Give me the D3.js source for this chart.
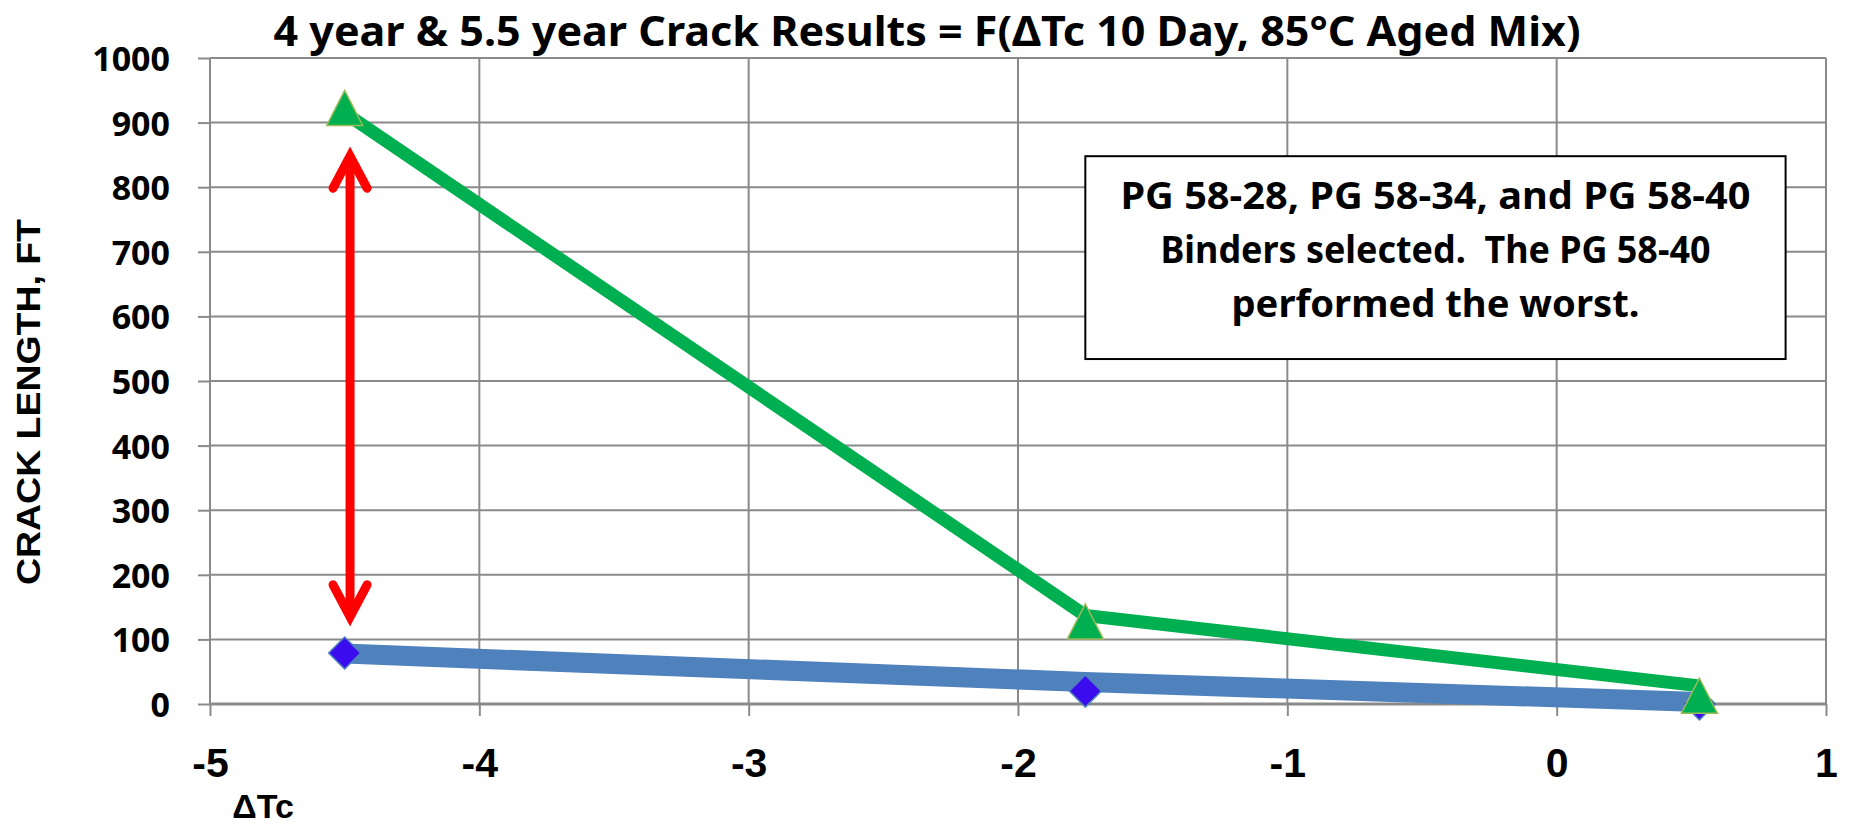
<!DOCTYPE html>
<html>
<head>
<meta charset="utf-8">
<script src="https://cdnjs.cloudflare.com/ajax/libs/d3/7.8.5/d3.min.js"></script>
<style>
  html, body { margin: 0; padding: 0; background: #fff; }
  svg { display: block; }
</style>
</head>
<body>
<div id="chart"></div>
<script>
// values
const dTc = [-4.5, -1.75, 0.53];
const greenLine = [915, 137, 28];      // 5.5 year line
const greenMarks = [922, 127, 12];     // triangle markers
const blueLine = [78, 34, 3];          // 4 year line
const blueMarks = [79, 20, 0];         // diamond markers
const xTicks = [-5, -4, -3, -2, -1, 0, 1];
const yTicks = [0, 100, 200, 300, 400, 500, 600, 700, 800, 900, 1000];

// red range arrow, in data units
const arrowX = -4.48;
const arrowSpan = [135, 848];

// note box, in data units
const noteBox = { x0: -1.75, x1: 0.85, y0: 848, y1: 534 };
const noteLines = [
    'PG 58-28, PG 58-34, and PG 58-40',
    'Binders selected.  The PG 58-40',
    'performed the worst.'
];

const W = 1853, H = 827;
const margin = { top: 58, right: 27, bottom: 123, left: 210 };

const svg = d3.select('#chart')
    .append('svg')
    .attr('width', W)
    .attr('height', H);

const x = d3.scaleLinear()
    .domain([-5, 1])
    .range([margin.left, W - margin.right]);

const y = d3.scaleLinear()
    .domain([0, 1000])
    .range([H - margin.bottom, margin.top]);

const gridColor = '#8a8a8a';

// gridlines
svg.append('g')
    .selectAll('line')
    .data(yTicks)
    .enter()
    .append('line')
    .attr('x1', x(-5))
    .attr('x2', x(1))
    .attr('y1', d => y(d))
    .attr('y2', d => y(d))
    .attr('stroke', gridColor)
    .attr('stroke-width', d => d === 0 ? 3 : 2);

svg.append('g')
    .selectAll('line')
    .data(xTicks)
    .enter()
    .append('line')
    .attr('x1', d => x(d))
    .attr('x2', d => x(d))
    .attr('y1', y(1000))
    .attr('y2', y(0))
    .attr('stroke', gridColor)
    .attr('stroke-width', 2);

// axes
const xAxis = svg.append('g')
    .attr('transform', `translate(0,${y(0)})`)
    .call(d3.axisBottom(x).tickValues(xTicks).tickSize(12).tickPadding(32));
xAxis.select('.domain').remove();
xAxis.selectAll('line').attr('stroke', gridColor).attr('stroke-width', 2);
xAxis.selectAll('text')
    .attr('fill', '#000')
    .style('font-family', '"Liberation Sans", Arial, sans-serif')
    .style('font-weight', 'bold')
    .style('font-size', '41px')
    .text(d => d < 0 ? '-' + Math.abs(d) : d);

const yAxis = svg.append('g')
    .attr('transform', `translate(${x(-5)},0)`)
    .call(d3.axisLeft(y).tickValues(yTicks).tickSize(12).tickPadding(28).tickFormat(d3.format('d')));
yAxis.select('.domain').remove();
yAxis.selectAll('line').attr('stroke', gridColor).attr('stroke-width', 2);
yAxis.selectAll('text')
    .attr('fill', '#000')
    .attr('dy', '0.37em')
    .style('font-family', '"Noto Sans", sans-serif')
    .style('font-weight', 'bold')
    .style('font-size', '34px');

// lines
const line = d3.line()
    .x((d, i) => x(dTc[i]))
    .y(d => y(d));

svg.append('path')
    .datum(blueLine)
    .attr('d', line)
    .attr('fill', 'none')
    .attr('stroke', '#4f81bd')
    .attr('stroke-width', 20)
    .attr('stroke-linejoin', 'round');

svg.append('path')
    .datum(greenLine)
    .attr('d', line)
    .attr('fill', 'none')
    .attr('stroke', '#00b050')
    .attr('stroke-width', 13)
    .attr('stroke-linejoin', 'round');

// markers
svg.selectAll('.diamond')
    .data(blueMarks)
    .enter()
    .append('path')
    .attr('class', 'diamond')
    .attr('d', 'M0,-16L16,0L0,16L-16,0Z')
    .attr('transform', (d, i) => `translate(${x(dTc[i])},${y(d)})`)
    .attr('fill', '#3a0cee')
    .attr('stroke', '#4f81bd')
    .attr('stroke-width', 1.5);

svg.selectAll('.tri')
    .data(greenMarks)
    .enter()
    .append('path')
    .attr('class', 'tri')
    .attr('d', 'M0,-18L18,17L-18,17Z')
    .attr('transform', (d, i) => `translate(${x(dTc[i])},${y(d)})`)
    .attr('fill', '#00b050')
    .attr('stroke', '#9bbb59')
    .attr('stroke-width', 1.5);

// red double arrow
const ax = x(arrowX);
const aTop = y(arrowSpan[1]);
const aBot = y(arrowSpan[0]);
const arrow = svg.append('g')
    .attr('stroke', '#ff0000')
    .attr('stroke-width', 9)
    .attr('stroke-linecap', 'round')
    .attr('fill', 'none');
arrow.append('line')
    .attr('x1', ax).attr('x2', ax)
    .attr('y1', aTop + 4).attr('y2', aBot - 4);
arrow.append('path')
    .attr('stroke-linejoin', 'miter')
    .attr('d', `M${ax - 17},${aTop + 32}L${ax},${aTop}L${ax + 17},${aTop + 32}`);
arrow.append('path')
    .attr('stroke-linejoin', 'miter')
    .attr('d', `M${ax - 17},${aBot - 32}L${ax},${aBot}L${ax + 17},${aBot - 32}`);

// note box
const bx0 = x(noteBox.x0), bx1 = x(noteBox.x1);
const by0 = y(noteBox.y0), by1 = y(noteBox.y1);
svg.append('rect')
    .attr('x', bx0)
    .attr('y', by0)
    .attr('width', bx1 - bx0)
    .attr('height', by1 - by0)
    .attr('fill', '#fff')
    .attr('stroke', '#000')
    .attr('stroke-width', 2);

const noteLengths = [630, 550, 408];
svg.selectAll('.note')
    .data(noteLines)
    .enter()
    .append('text')
    .attr('class', 'note')
    .attr('x', (bx0 + bx1) / 2)
    .attr('y', (d, i) => by0 + 53 + i * 54)
    .attr('text-anchor', 'middle')
    .attr('textLength', (d, i) => noteLengths[i])
    .attr('lengthAdjust', 'spacingAndGlyphs')
    .style('font-family', '"Noto Sans", sans-serif')
    .style('font-weight', 'bold')
    .style('font-size', '38px')
    .style('white-space', 'pre')
    .text(d => d);

// title
svg.append('text')
    .attr('x', 927)
    .attr('y', 46)
    .attr('text-anchor', 'middle')
    .attr('textLength', 1307)
    .attr('lengthAdjust', 'spacingAndGlyphs')
    .style('font-family', '"Noto Sans", sans-serif')
    .style('font-weight', 'bold')
    .style('font-size', '41px')
    .text('4 year & 5.5 year Crack Results = F(ΔTc 10 Day, 85°C Aged Mix)');

// axis titles
svg.append('text')
    .attr('transform', 'translate(40,402) rotate(-90)')
    .attr('text-anchor', 'middle')
    .attr('textLength', 366)
    .attr('lengthAdjust', 'spacingAndGlyphs')
    .style('font-family', '"Liberation Sans", Arial, sans-serif')
    .style('font-weight', 'bold')
    .style('font-size', '34px')
    .text('CRACK LENGTH, FT');

svg.append('text')
    .attr('x', 263)
    .attr('y', 818)
    .attr('text-anchor', 'middle')
    .style('font-family', '"Liberation Sans Narrow", "Liberation Sans", sans-serif')
    .style('font-weight', 'bold')
    .style('font-size', '34px')
    .text('ΔTc');
</script>
</body>
</html>
